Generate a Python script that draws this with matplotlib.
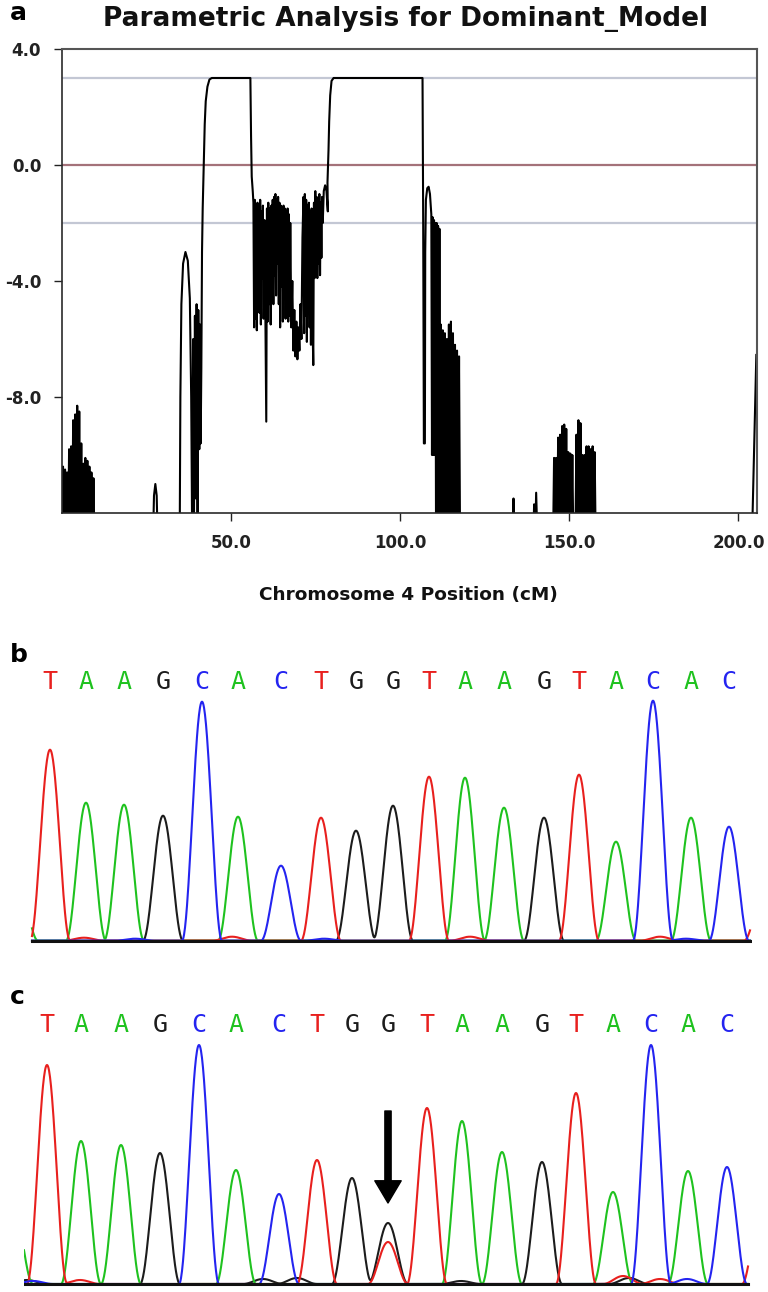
import numpy as np
import matplotlib
matplotlib.use('Agg')
import matplotlib.pyplot as plt

## Panel a: parametric LOD trace along chromosome 4 (cM, score) ##
lod_points = [
    (0.0, -13), (0.3, -10.4), (0.6, -13), (0.9, -10.5), (1.2, -13), (1.5, -10.6), (1.8, -13),
    (2.1, -9.8), (2.4, -13), (2.7, -9.7), (3.0, -13), (3.3, -8.8), (3.6, -13), (3.9, -8.6),
    (4.2, -13), (4.5, -8.3), (4.8, -13), (5.1, -8.5), (5.4, -13), (5.7, -9.6), (6.0, -13),
    (6.3, -10.3), (6.6, -13), (6.9, -10.1), (7.2, -13), (7.5, -10.2), (7.8, -13), (8.1, -10.4),
    (8.4, -13), (8.7, -10.6), (9.0, -13), (9.3, -10.8), (9.6, -13),
    (26.9, -13), (27.2, -11.4), (27.6, -11.0), (28.0, -11.4), (28.3, -13),
    (34.8, -13), (35.0, -8.0), (35.3, -4.8), (35.8, -3.4), (36.5, -3.0), (37.2, -3.3),
    (37.8, -4.6), (38.2, -8.0), (38.5, -13),
    (38.8, -6.0), (39.0, -13), (39.3, -5.2), (39.6, -11.5), (39.8, -4.8), (40.1, -13),
    (40.3, -5.0), (40.6, -9.8), (40.8, -5.5), (41.0, -9.6), (41.2, -7.0),
    (41.4, -3.0), (41.6, -1.5), (41.9, 0.0), (42.2, 1.4), (42.5, 2.2), (43.0, 2.7),
    (43.6, 2.95), (44.3, 3.0),
    (55.7, 3.0), (55.9, 1.0), (56.1, -0.4), (56.4, -0.9),
    (56.6, -1.3), (56.8, -5.6), (57.0, -1.2), (57.2, -5.3), (57.4, -1.4), (57.6, -5.7),
    (57.8, -1.3), (58.0, -4.6), (58.2, -1.5), (58.4, -5.1), (58.6, -1.2), (58.8, -5.5),
    (59.0, -1.6), (59.2, -3.9), (59.4, -1.4), (59.6, -5.3), (59.9, -1.9), (60.1, -4.6),
    (60.4, -8.85), (60.6, -1.5), (60.8, -5.4), (61.0, -1.3), (61.2, -4.8), (61.4, -1.5),
    (61.7, -5.5), (61.9, -1.4), (62.1, -3.6), (62.3, -1.2), (62.5, -4.8), (62.7, -1.1),
    (62.9, -3.8), (63.1, -1.0), (63.3, -4.5), (63.5, -1.2), (63.7, -3.4), (63.9, -1.1),
    (64.1, -4.8), (64.3, -1.3), (64.5, -5.6), (64.7, -1.4), (64.9, -4.2), (65.1, -1.6),
    (65.3, -5.4), (65.5, -1.4), (65.7, -4.6), (65.9, -1.5), (66.1, -5.3), (66.3, -1.6),
    (66.5, -4.2), (66.7, -1.5), (66.9, -5.4), (67.1, -1.7), (67.3, -5.2), (67.5, -2.0),
    (67.8, -5.6), (68.1, -4.0), (68.4, -6.4), (68.7, -5.0), (69.0, -6.6), (69.3, -5.4),
    (69.6, -6.7), (69.9, -5.6), (70.2, -6.4), (70.5, -4.8), (70.8, -6.0), (71.1, -2.5),
    (71.4, -1.1), (71.6, -5.8), (71.8, -1.0), (72.0, -5.2), (72.2, -1.2), (72.4, -6.1),
    (72.6, -1.4), (72.8, -4.9), (73.0, -1.3), (73.2, -5.6), (73.4, -1.6), (73.6, -6.2),
    (73.8, -1.5), (74.0, -5.0), (74.3, -6.9), (74.5, -1.3), (74.7, -3.9), (74.9, -0.9),
    (75.1, -3.6), (75.3, -1.1), (75.5, -3.9), (75.7, -1.2), (75.9, -3.4), (76.1, -1.0),
    (76.3, -3.8), (76.5, -1.3), (76.7, -3.2), (76.9, -1.1), (77.1, -2.0), (77.4, -0.9),
    (77.8, -0.7), (78.2, -0.9), (78.6, -1.6), (78.5, -0.6), (78.8, 0.5), (79.0, 1.5),
    (79.3, 2.4), (79.7, 2.9), (80.3, 3.0),
    (106.6, 3.0), (106.8, -2.0), (107.0, -9.6), (107.3, -9.6), (107.4, -3.0), (107.6, -1.2),
    (108.0, -0.8), (108.4, -0.75), (108.8, -1.0), (109.2, -1.7),
    (109.4, -10.0), (109.6, -1.8), (109.8, -10.0), (110.0, -1.9), (110.2, -10.0), (110.4, -2.0),
    (110.6, -13), (110.8, -2.0), (111.0, -13), (111.2, -2.1), (111.4, -13), (111.6, -2.2),
    (111.8, -13), (112.0, -5.5), (112.3, -13), (112.6, -5.7), (112.9, -13), (113.2, -5.8),
    (113.5, -13), (113.8, -6.0), (114.1, -13), (114.4, -5.5), (114.7, -13), (115.0, -5.4),
    (115.3, -13), (115.6, -5.8), (115.9, -13), (116.2, -6.2), (116.5, -13), (116.8, -6.4),
    (117.1, -13), (117.4, -6.6), (117.7, -13),
    (133.2, -13), (133.5, -11.5), (133.8, -13),
    (139.3, -13), (139.6, -11.7), (139.9, -13), (140.2, -11.3), (140.6, -13),
    (145.2, -13), (145.5, -10.1), (145.8, -13), (146.1, -10.1), (146.4, -13), (146.7, -9.4),
    (147.0, -13), (147.3, -9.3), (147.6, -13), (147.9, -9.0), (148.2, -13), (148.5, -8.95),
    (148.8, -13), (149.1, -9.1), (149.4, -13), (149.7, -9.9), (150.0, -13), (150.3, -9.95),
    (150.6, -13), (150.9, -10.0), (151.2, -13),
    (151.8, -13), (152.1, -9.3), (152.4, -13), (152.7, -8.8), (153.0, -13), (153.3, -8.9),
    (153.6, -13), (153.9, -10.0), (154.2, -13), (154.5, -10.0), (154.8, -13), (155.1, -9.7),
    (155.4, -13), (155.7, -9.7), (156.0, -13), (156.3, -9.8), (156.6, -13), (156.9, -9.7),
    (157.2, -13), (157.5, -9.9), (157.8, -13),
    (204.0, -13), (205.3, -6.55),
]
ref_lines = [3.0, -2.0]
x_ticks = [50, 100, 150, 200]
y_ticks = [4, 0, -4, -8]

## Panels b, c: sequencing chromatograms (scan position, peak RFU) ##
bases = "TAAGCACTGGTAAGTACAC"
b_pos = [26, 62, 100, 139, 178, 214, 257, 297, 332, 369, 405, 441, 480, 520, 555, 592, 629, 667, 705]
b_height = [1910, 1380, 1360, 1250, 2390, 1240, 750, 1230, 1100, 1350, 1640, 1630, 1330, 1230, 1660, 990, 2400, 1230, 1140]
b_extra = [(-6, 'A', 600), (740, 'T', 500), (60, 'T', 30), (111, 'C', 20), (208, 'T', 40),
           (300, 'C', 20), (446, 'T', 40), (636, 'T', 40), (662, 'C', 20)]
b_span = (8, 726)

c_pos = [23, 57, 97, 136, 175, 212, 255, 293, 328, 364, 403, 438, 478, 518, 552, 589, 627, 664, 703]
c_height = [2190, 1430, 1390, 1310, 2390, 1140, 900, 1240, 1060, 610, 1760, 1630, 1320, 1220, 1910, 920, 2390, 1130, 1170]
c_extra = [(-11, 'A', 800), (738, 'T', 850), (364, 'T', 420), (56, 'T', 40), (239, 'G', 50),
           (273, 'G', 60), (437, 'G', 30), (599, 'T', 80), (605, 'G', 60), (636, 'T', 50),
           (663, 'C', 50), (9, 'C', 30), (3, 'G', 40)]
c_span = (0, 724)
mutation_scan = 364

base_colors = {'T': '#e8201e', 'A': '#1fc21f', 'G': '#1c1c1c', 'C': '#2424f0'}

W, H = 768, 1292
fig = plt.figure(figsize=(W / 100, H / 100), dpi=100)


def px_axes(x0, y0, x1, y1):
    return fig.add_axes([x0 / W, 1 - y1 / H, (x1 - x0) / W, (y1 - y0) / H])


# ---- panel a ----
ax = px_axes(62, 49, 757, 513)
cm = [p[0] for p in lod_points]
lod = [p[1] for p in lod_points]
for y in ref_lines:
    ax.axhline(y, color='#c3c7d4', lw=1.6, zorder=1)
ax.axhline(0.0, color='#a4727a', lw=1.6, zorder=1)
ax.plot(cm, lod, color='black', lw=1.5, zorder=2)
ax.set_xlim(0, 205.5)
ax.set_ylim(-12, 4)
ax.set_xticks(x_ticks)
ax.set_xticklabels(['%.1f' % v for v in x_ticks])
ax.set_yticks(y_ticks)
ax.set_yticklabels(['%.1f' % v for v in y_ticks])
ax.tick_params(direction='out', length=6, width=1, labelsize=12, pad=9, colors='#222222')
for lab in ax.get_xticklabels() + ax.get_yticklabels():
    lab.set_fontweight('bold')
for side in ['left', 'bottom']:
    ax.spines[side].set_color('#2a2a2a')
    ax.spines[side].set_linewidth(1.2)
for side in ['top', 'right']:
    ax.spines[side].set_color('#555555')
    ax.spines[side].set_linewidth(1.5)

fig.text(406 / W, 1 - 26 / H, 'Parametric Analysis for Dominant_Model',
         ha='center', va='baseline', fontsize=19, fontweight='bold', color='#111111')
fig.text(408 / W, 1 - 595 / H, 'Chromosome 4 Position (cM)',
         ha='center', va='center', fontsize=13.3, fontweight='bold', color='#111111')


# ---- panels b and c ----
def chromatogram(ax, pos, height, extra, span, half_width=20.0):
    xs = np.arange(span[0], span[1] + 0.5, 0.5)
    peaks = list(zip(pos, bases, height)) + [(p, b, h) for p, b, h in extra]
    for base in ['G', 'A', 'T', 'C']:
        trace = np.zeros_like(xs)
        for p, b, h in peaks:
            if b == base:
                d = np.clip((xs - p) / half_width, -1, 1)
                trace += h * np.cos(np.pi * d / 2) ** 2
        ax.plot(xs, trace, color=base_colors[base], lw=1.5)
    ax.plot([span[0], span[1]], [0, 0], color='#111111', lw=2.2)
    for p, b in zip(pos, bases):
        ax.text(p, 2590, b, color=base_colors[b], ha='center', va='center',
                fontsize=18, family='DejaVu Sans Mono')
    ax.set_xlim(0, 728)
    ax.set_ylim(-50, 2850)
    ax.axis('off')


axb = px_axes(24, 655.7, 752, 945.7)
chromatogram(axb, b_pos, b_height, b_extra, b_span)

axc = px_axes(24, 999, 752, 1289)
chromatogram(axc, c_pos, c_height, c_extra, c_span)
axc.annotate('', xy=(mutation_scan, 810), xytext=(mutation_scan, 1730),
             arrowprops=dict(facecolor='black', edgecolor='black', width=4.5,
                             headwidth=19, headlength=16, shrink=0))

fig.text(10 / W, 1 - 13 / H, 'a', fontsize=18, fontweight='bold', ha='left', va='center')
fig.text(10 / W, 1 - 655 / H, 'b', fontsize=18, fontweight='bold', ha='left', va='center')
fig.text(10 / W, 1 - 997 / H, 'c', fontsize=18, fontweight='bold', ha='left', va='center')

fig.savefig('out.png', dpi=100, facecolor='white')
